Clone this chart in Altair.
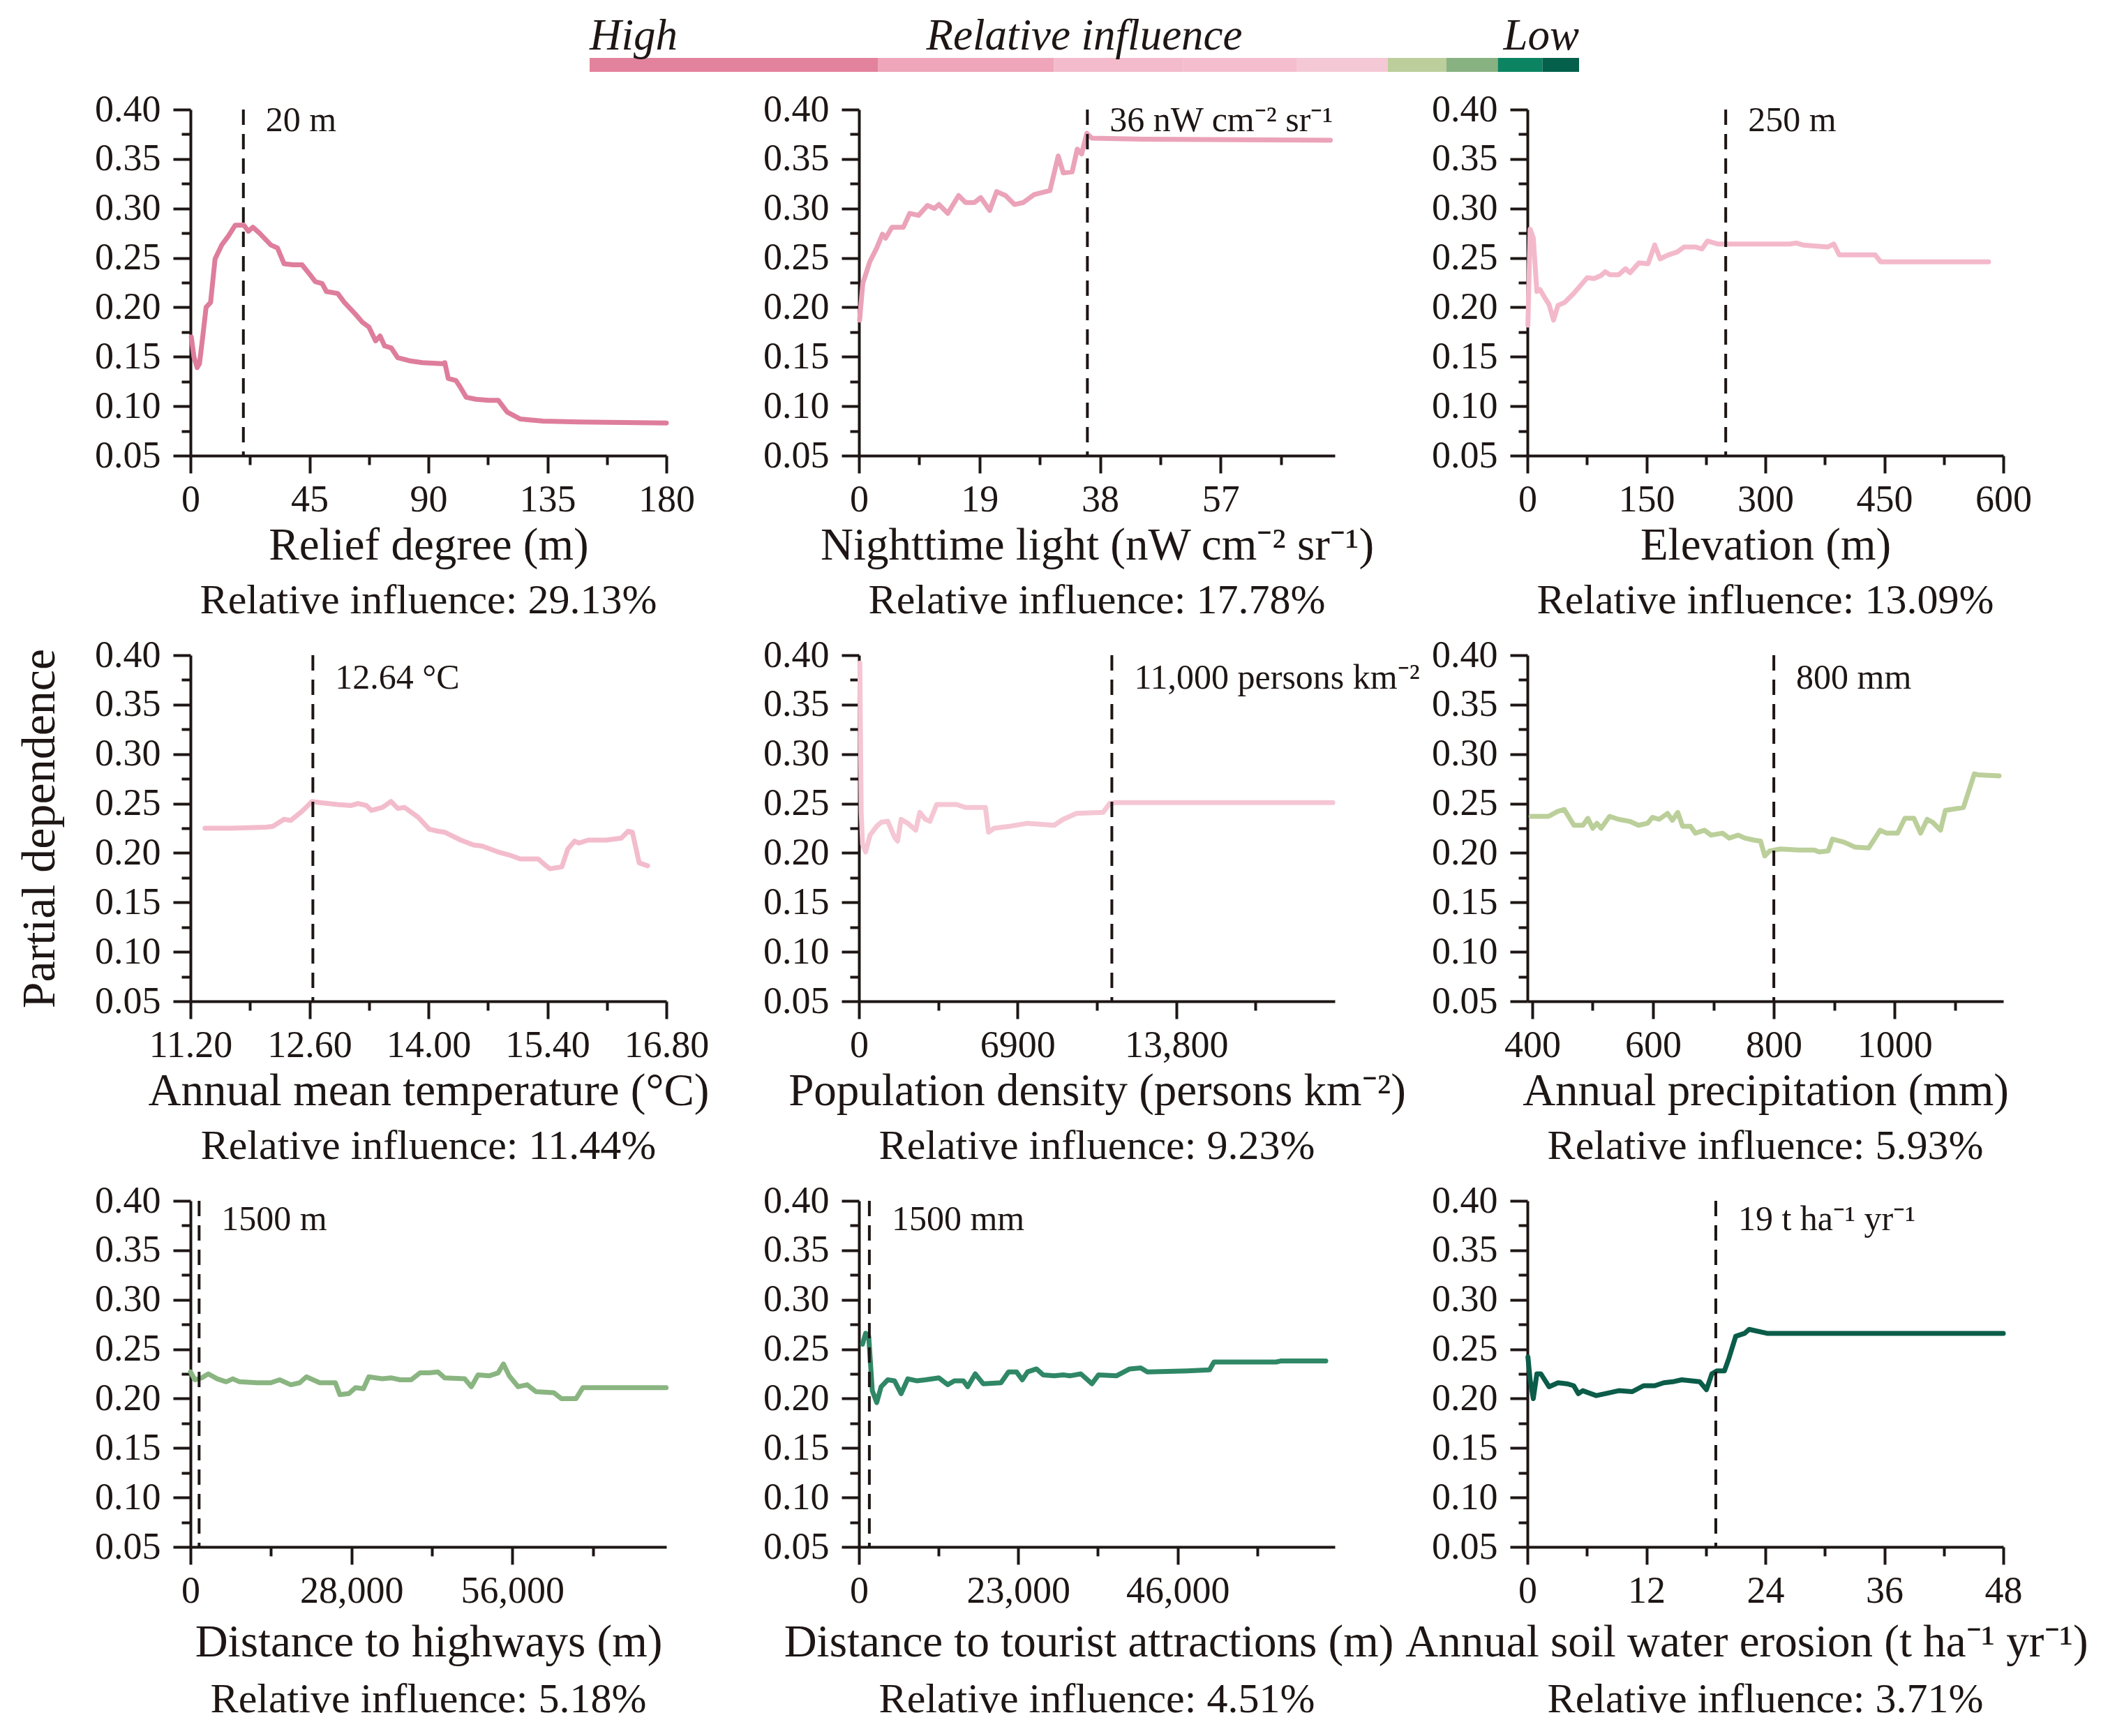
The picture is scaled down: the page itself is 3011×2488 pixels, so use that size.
import altair as alt
import pandas as pd

FONT = "Liberation Serif"
INK = "#1d1614"

# ---------------- data ----------------
names = ["Relief degree", "Nighttime light", "Elevation", "Annual mean temperature",
         "Population density", "Annual precipitation", "Distance to highways",
         "Distance to tourist attractions", "Annual soil water erosion"]
influence = [29.13, 17.78, 13.09, 11.44, 9.23, 5.93, 5.18, 4.51, 3.71]
bar_colors = ["#E3829C", "#EFA5BA", "#F3BBCB", "#F4BECE", "#F5C8D5",
              "#BCCE9B", "#88B282", "#0C8462", "#04604B"]
line_colors = ["#DE7D9C", "#EBA3B9", "#F3B9CB", "#F3BCCC", "#F5C6D4",
               "#BBCF9A", "#8AB581", "#2F8766", "#0B5C49"]
x_titles = ["Relief degree (m)", "Nighttime light (nW cm\u207b\u00b2 sr\u207b\u00b9)", "Elevation (m)",
            "Annual mean temperature (\u00b0C)", "Population density (persons km\u207b\u00b2)",
            "Annual precipitation (mm)", "Distance to highways (m)",
            "Distance to tourist attractions (m)", "Annual soil water erosion (t ha\u207b\u00b9 yr\u207b\u00b9)"]
thresholds = [20, 36, 250, 12.64, 11000, 800, 1500, 1500, 19]
thr_labels = ["20 m", "36 nW cm\u207b\u00b2 sr\u207b\u00b9", "250 m", "12.64 \u00b0C",
              "11,000 persons km\u207b\u00b2", "800 mm", "1500 m", "1500 mm", "19 t ha\u207b\u00b9 yr\u207b\u00b9"]
thr_label_y = [0.389, 0.389, 0.389, 0.377, 0.377, 0.377, 0.381, 0.381, 0.381]

x_domains = [[0, 180], [0, 75], [0, 600], [11.2, 16.8], [0, 20700],
             [392, 1180], [0, 82800], [0, 68700], [0, 48]]
x_major = [[0, 45, 90, 135, 180], [0, 19, 38, 57], [0, 150, 300, 450, 600],
           [11.2, 12.6, 14.0, 15.4, 16.8], [0, 6900, 13800], [400, 600, 800, 1000],
           [0, 28000, 56000], [0, 23000, 46000], [0, 12, 24, 36, 48]]
x_major_labels = [["0", "45", "90", "135", "180"], ["0", "19", "38", "57"],
                  ["0", "150", "300", "450", "600"], ["11.20", "12.60", "14.00", "15.40", "16.80"],
                  ["0", "6900", "13,800"], ["400", "600", "800", "1000"],
                  ["0", "28,000", "56,000"], ["0", "23,000", "46,000"], ["0", "12", "24", "36", "48"]]
x_minor = [[22.5, 67.5, 112.5, 157.5], [9.5, 28.5, 47.5, 66.5], [75, 225, 375, 525],
           [11.9, 13.3, 14.7, 16.1], [3450, 10350, 17250], [500, 700, 900, 1100],
           [14000, 42000, 70000], [11500, 34500, 57500], [6, 18, 30, 42]]
y_major = [0.05, 0.1, 0.15, 0.2, 0.25, 0.3, 0.35, 0.4]
y_minor = [0.075, 0.125, 0.175, 0.225, 0.275, 0.325, 0.375]

relief_x = [0.3, 1.3, 2.5, 3.4, 4.7, 5.9, 7.6, 9.3, 11.8, 14.3, 16.9, 20.2, 21.9, 23.6, 26.1,
            30.4, 32.9, 35.4, 38.8, 42.2, 45.5, 47.2, 49.8, 51.4, 55.7, 58.2, 62.4, 65.0, 67.5,
            70.0, 71.7, 73.4, 75.9, 78.4, 82.7, 87.7, 95.3, 96.2, 97.5, 100.4, 102.1, 104.3,
            108.0, 113.0, 116.4, 119.8, 124.8, 133.3, 146.8, 180]
relief_y = [0.170, 0.150, 0.139, 0.143, 0.172, 0.200, 0.205, 0.249, 0.263, 0.272, 0.283, 0.283,
            0.277, 0.281, 0.275, 0.263, 0.260, 0.244, 0.243, 0.243, 0.232, 0.226, 0.224, 0.216,
            0.214, 0.205, 0.193, 0.185, 0.180, 0.166, 0.171, 0.161, 0.159, 0.149, 0.146, 0.144,
            0.143, 0.144, 0.128, 0.126, 0.119, 0.109, 0.107, 0.106, 0.106, 0.094, 0.087, 0.085,
            0.084, 0.083]

light_x = [0.1, 0.6, 1.7, 2.8, 3.7, 4.2, 5.2, 7.0, 8.0, 9.4, 10.8, 11.9, 12.6, 14.0, 15.7, 16.8,
           18.2, 19.2, 20.6, 21.7, 23.1, 24.5, 25.9, 27.6, 30.1, 31.4, 32.2, 33.6, 34.4, 35.1,
           35.9, 36.7, 44.8, 74.3]
light_y = [0.187, 0.224, 0.246, 0.260, 0.274, 0.270, 0.281, 0.281, 0.295, 0.293, 0.303, 0.300,
           0.304, 0.295, 0.313, 0.306, 0.306, 0.311, 0.298, 0.317, 0.313, 0.304, 0.306, 0.314,
           0.318, 0.353, 0.336, 0.337, 0.360, 0.355, 0.376, 0.371, 0.370, 0.369]

elev_x = [0.6, 3.4, 7.4, 11.9, 15.9, 21.6, 27.2, 32.9, 38.6, 47.1, 58.4, 75.4, 83.9, 92.5, 98.1,
          103.8, 115.1, 123.7, 129.4, 140.7, 152.0, 160.5, 167.3, 177.5, 188.9, 197.4, 211.6,
          220.1, 226.9, 239.9, 262.6, 330.7, 339.2, 347.7, 378.9, 386.3, 393.1, 438.5, 445.3, 581.4]
elev_y = [0.182, 0.279, 0.270, 0.216, 0.218, 0.210, 0.203, 0.187, 0.202, 0.205, 0.214, 0.230,
          0.229, 0.232, 0.236, 0.233, 0.233, 0.239, 0.235, 0.245, 0.244, 0.263, 0.249, 0.253,
          0.256, 0.261, 0.261, 0.259, 0.267, 0.264, 0.264, 0.264, 0.265, 0.263, 0.261, 0.264,
          0.253, 0.253, 0.246, 0.246]

temp_x = [11.37, 11.67, 12.09, 12.17, 12.30, 12.38, 12.51, 12.63, 12.72, 12.93, 13.09, 13.17,
          13.27, 13.33, 13.46, 13.56, 13.64, 13.72, 13.88, 14.01, 14.11, 14.19, 14.38, 14.53,
          14.63, 14.82, 14.95, 15.08, 15.29, 15.37, 15.43, 15.57, 15.64, 15.72, 15.77, 15.88,
          16.09, 16.27, 16.35, 16.40, 16.48, 16.58]
temp_y = [0.225, 0.225, 0.226, 0.227, 0.234, 0.233, 0.242, 0.252, 0.251, 0.249, 0.248, 0.250,
          0.248, 0.243, 0.246, 0.252, 0.245, 0.246, 0.236, 0.224, 0.222, 0.221, 0.213, 0.208,
          0.207, 0.201, 0.198, 0.194, 0.194, 0.188, 0.184, 0.186, 0.204, 0.212, 0.210, 0.213,
          0.213, 0.215, 0.222, 0.221, 0.190, 0.187]

pop_x = [39, 97, 155, 290, 483, 773, 965, 1255, 1544, 1679, 1834, 2123, 2471, 2644, 2895, 3088,
         3378, 4246, 4632, 5501, 5636, 5887, 6563, 7335, 8493, 8879, 9458, 10616, 10905, 11195,
         20614]
pop_y = [0.392, 0.241, 0.209, 0.201, 0.218, 0.227, 0.231, 0.232, 0.216, 0.212, 0.234, 0.230,
         0.223, 0.241, 0.234, 0.232, 0.249, 0.249, 0.246, 0.246, 0.221, 0.225, 0.227, 0.230,
         0.228, 0.234, 0.240, 0.241, 0.250, 0.251, 0.251]

prec_x = [398, 427, 442, 453, 469, 484, 492, 500, 507, 514, 528, 543, 561, 576, 591, 599, 610,
          624, 632, 641, 649, 662, 670, 685, 696, 715, 726, 741, 752, 767, 778, 785, 793, 811,
          841, 867, 875, 890, 897, 916, 934, 957, 976, 987, 1005, 1017, 1032, 1043, 1054, 1063,
          1076, 1084, 1114, 1132, 1139, 1173]
prec_y = [0.237, 0.237, 0.242, 0.244, 0.228, 0.228, 0.235, 0.225, 0.230, 0.225, 0.237, 0.234,
          0.232, 0.228, 0.230, 0.236, 0.234, 0.240, 0.233, 0.241, 0.227, 0.227, 0.220, 0.223,
          0.218, 0.220, 0.215, 0.218, 0.215, 0.213, 0.212, 0.197, 0.202, 0.204, 0.203, 0.203,
          0.201, 0.202, 0.214, 0.211, 0.206, 0.205, 0.223, 0.220, 0.220, 0.235, 0.235, 0.220,
          0.234, 0.231, 0.223, 0.243, 0.246, 0.280, 0.279, 0.278]

hwy_x = [0, 776, 1939, 3102, 4654, 6205, 7369, 8532, 11634, 13961, 15513, 17452, 19003, 20167,
         22493, 25208, 25983, 27535, 28698, 30094, 31025, 33352, 34903, 36454, 38393, 39945,
         41496, 43047, 44211, 47701, 48865, 50028, 51967, 53519, 54449, 55457, 57009, 58560,
         60111, 63214, 64532, 67092, 68256, 82760]
hwy_y = [0.227, 0.219, 0.221, 0.225, 0.220, 0.217, 0.220, 0.217, 0.216, 0.216, 0.219, 0.214,
         0.216, 0.222, 0.216, 0.216, 0.204, 0.205, 0.211, 0.210, 0.222, 0.220, 0.221, 0.219,
         0.219, 0.226, 0.226, 0.227, 0.221, 0.220, 0.212, 0.224, 0.223, 0.226, 0.235, 0.223,
         0.212, 0.214, 0.207, 0.206, 0.200, 0.200, 0.211, 0.211]

tour_x = [512, 961, 1409, 1922, 2563, 3203, 4164, 5125, 6086, 7047, 8328, 9609, 11532, 12813,
          13774, 15055, 15696, 16785, 17938, 20500, 21589, 22742, 23575, 24344, 25625, 26586,
          28188, 29469, 30430, 32031, 33633, 34594, 37156, 39078, 40680, 41641, 47406, 50609,
          51250, 60219, 60860, 67395]
tour_y = [0.255, 0.266, 0.263, 0.208, 0.196, 0.212, 0.219, 0.218, 0.205, 0.220, 0.218, 0.219,
          0.221, 0.214, 0.218, 0.218, 0.212, 0.225, 0.215, 0.216, 0.227, 0.227, 0.219, 0.227,
          0.230, 0.224, 0.223, 0.224, 0.223, 0.225, 0.215, 0.224, 0.223, 0.230, 0.231, 0.227,
          0.228, 0.229, 0.237, 0.237, 0.238, 0.238]

eros_x = [0.05, 0.27, 0.59, 0.95, 1.36, 2.18, 3.09, 3.99, 4.67, 5.13, 5.58, 6.94, 7.85, 9.21,
          10.57, 11.71, 12.84, 13.75, 14.66, 15.56, 17.38, 18.06, 18.6, 19.1, 19.87, 20.33,
          21.01, 21.91, 22.37, 24.18, 48]
eros_y = [0.242, 0.219, 0.200, 0.225, 0.225, 0.212, 0.216, 0.215, 0.213, 0.205, 0.208, 0.203,
          0.205, 0.208, 0.207, 0.213, 0.213, 0.216, 0.217, 0.219, 0.217, 0.209, 0.225, 0.228,
          0.228, 0.241, 0.263, 0.266, 0.270, 0.266, 0.266]

curves_x = [relief_x, light_x, elev_x, temp_x, pop_x, prec_x, hwy_x, tour_x, eros_x]
curves_y = [relief_y, light_y, elev_y, temp_y, pop_y, prec_y, hwy_y, tour_y, eros_y]

# ---------------- layout / style ----------------
PW, PH = 682, 496
MAJOR_TICK, MINOR_TICK = 25, 13
title_pad = [7, 7, 7, 7, 7, 7, 15, 15, 15]
ri_offset = [18, 18, 18, 18, 18, 18, 21, 21, 21]
title_x = {7: 329, 8: 314}


def num_list(vals):
    return "[" + ",".join(repr(v) for v in vals) + "]"


def x_axis(i):
    vals = sorted(x_major[i] + x_minor[i])
    expr = "''"
    for v, lab in reversed(list(zip(x_major[i], x_major_labels[i]))):
        expr = f"datum.value == {v!r} ? '{lab}' : ({expr})"
    kw = {}
    if i in title_x:
        kw["titleX"] = title_x[i]
    return alt.Axis(
        values=vals, labelExpr=expr, title=x_titles[i],
        tickSize={"condition": {"test": f"indexof({num_list(x_major[i])}, datum.value) >= 0",
                                "value": MAJOR_TICK}, "value": MINOR_TICK},
        labelPadding=11, titlePadding=title_pad[i], **kw,
    )


def y_axis(i):
    kw = {}
    if i == 3:
        kw["title"] = "Partial dependence"
    else:
        kw["title"] = None
    return alt.Axis(
        values=sorted(y_major + y_minor),
        labelExpr=f"indexof({num_list(y_major)}, datum.value) >= 0 ? format(datum.value, '.2f') : ''",
        tickSize={"condition": {"test": f"indexof({num_list(y_major)}, datum.value) >= 0",
                                "value": MAJOR_TICK}, "value": MINOR_TICK},
        labelPadding=18, titlePadding=44, titleFontSize=68, **kw,
    )


def panel(i):
    xs = alt.Scale(domain=x_domains[i], nice=False, zero=False)
    ys = alt.Scale(domain=[0.05, 0.40], nice=False, zero=False)
    xa, ya = x_axis(i), y_axis(i)
    df = pd.DataFrame({"x": curves_x[i], "y": curves_y[i]})
    tdf = pd.DataFrame({"x": [thresholds[i]], "y": [thr_label_y[i]], "label": [thr_labels[i]]})
    line = alt.Chart(df).mark_line(color=line_colors[i], strokeWidth=7, strokeJoin="round",
                                   strokeCap="round").encode(
        x=alt.X("x:Q", scale=xs, axis=xa), y=alt.Y("y:Q", scale=ys, axis=ya))
    rule = alt.Chart(tdf).mark_rule(color=INK, strokeWidth=4, strokeDash=[22, 13]).encode(
        x=alt.X("x:Q", scale=xs, axis=xa))
    text = alt.Chart(tdf).mark_text(align="left", baseline="middle", dx=32, fontSize=50,
                                    font=FONT, color=INK).encode(
        x=alt.X("x:Q", scale=xs, axis=xa), y=alt.Y("y:Q", scale=ys, axis=ya), text="label:N")
    return alt.layer(line, rule, text).properties(
        width=PW, height=PH,
        title=alt.TitleParams(f"Relative influence: {influence[i]:.2f}%", orient="bottom",
                              frame="group", offset=ri_offset[i], fontSize=60, font=FONT,
                              fontWeight="normal", color=INK),
    )


grid = alt.concat(*[panel(i) for i in range(9)], columns=3,
                  spacing={"row": 286, "column": 276}, bounds="flush")

# ---------------- colour bar ----------------
cb = pd.DataFrame({"name": names, "inf": influence})
cb["end"] = cb["inf"].cumsum()
cb["start"] = cb["end"] - cb["inf"]
CB_RANGE = [572, 1990]
cbx = alt.Scale(domain=[0, 100], range=CB_RANGE, nice=False, zero=False)
bar = alt.Chart(cb).mark_rect().encode(
    x=alt.X("start:Q", scale=cbx, axis=None), x2="end:Q",
    color=alt.Color("name:N", scale=alt.Scale(domain=names, range=bar_colors), legend=None))
lab_df = pd.DataFrame({"pos": [0, 50, 100], "txt": ["High", "Relative influence", "Low"]})
labs = []
for k, al in enumerate(["left", "center", "right"]):
    labs.append(alt.Chart(lab_df.iloc[[k]]).mark_text(
        align=al, baseline="alphabetic", fontSize=63, font=FONT, fontStyle="italic",
        color=INK, dy=-12).encode(x=alt.X("pos:Q", scale=cbx, axis=None), y=alt.value(0),
                                  text="txt:N"))
colorbar = alt.layer(bar, *labs).properties(width=2000, height=20)

chart = alt.vconcat(colorbar, grid, spacing=25).properties(
    padding={"left": 14, "top": 12, "right": 0, "bottom": 0}
).configure_view(stroke="transparent").configure_axis(
    domainColor=INK, domainWidth=4, tickColor=INK, tickWidth=4, grid=False,
    labelFont=FONT, labelFontSize=54, labelColor=INK, labelFlush=False, labelOverlap=False,
    titleFont=FONT, titleFontSize=65, titleFontWeight="normal", titleColor=INK,
)

chart.save("out.html", embed_options={"renderer": "svg", "actions": False})
